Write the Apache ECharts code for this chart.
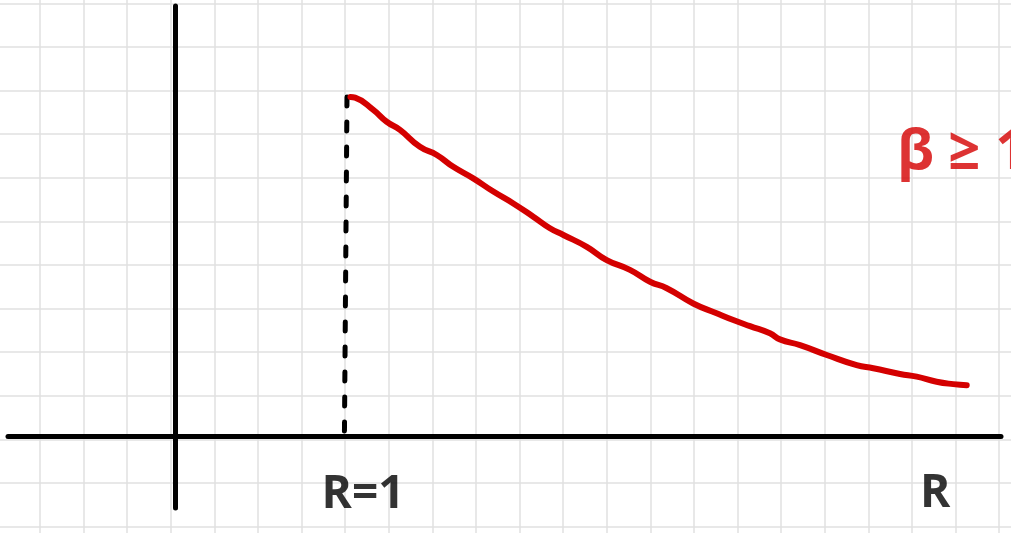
<!DOCTYPE html>
<html>
<head>
<meta charset="utf-8">
<title>β ≥ 1</title>
<script src="https://cdn.jsdelivr.net/npm/echarts@6/dist/echarts.min.js"></script>
<style>
  html, body { margin: 0; padding: 0; background: #ffffff; }
  #chart { width: 1011px; height: 533px; }
</style>
</head>
<body>
<div id="chart"></div>
<script>
// Decreasing curve for R >= 1 (x = R, y = relative value, peak = 1 at R = 1)
const curveR = [1.02, 1.047, 1.153, 1.231, 1.308, 1.424, 1.522, 1.618, 1.734, 1.851,
  1.967, 2.083, 2.180, 2.258, 2.394, 2.510, 2.645, 2.762, 2.859, 3.013,
  3.149, 3.246, 3.343, 3.459, 3.517, 3.634, 3.789, 3.963, 4.060, 4.215,
  4.312, 4.428, 4.525, 4.603];
const curveValue = [1.0, 0.998, 0.962, 0.927, 0.903, 0.853, 0.829, 0.794, 0.760, 0.721,
  0.686, 0.647, 0.613, 0.593, 0.558, 0.519, 0.490, 0.455, 0.436, 0.391,
  0.362, 0.342, 0.324, 0.303, 0.285, 0.268, 0.239, 0.209, 0.200, 0.183,
  0.175, 0.160, 0.153, 0.150];

// Dashed guide from the peak down to the R axis at R = 1
const guideR = [1.0, 0.985];
const guideValue = [1.0, 0.0];

// Annotations (text, R, value)
const noteText = ['R=1', 'R', 'β ≥ 1'];
const noteR = [1.093, 4.42, 4.198];
const noteValue = [-0.174, -0.171, 0.835];

// Axis extents of the sketch
const rRange = [-0.9709, 4.8023];
const valueRange = [-0.21239, 1.26844];

// Graph-paper cells
const paperCols = [-1, 23];
const paperRows = [0, 14];

const chart = echarts.init(document.getElementById('chart'), null, { renderer: 'canvas' });

const curveData = curveR.map((r, i) => [r, curveValue[i]]);
const guideData = guideR.map((r, i) => [r, guideValue[i]]);
const noteColors = ['#000000', '#000000', '#d40000'];
const noteAlign = ['center', 'center', 'left'];
const noteSize = [46, 46, 56];
const noteData = noteText.map((t, i) => ({
  value: [noteR[i], noteValue[i]],
  label: {
    show: true,
    formatter: t,
    color: noteColors[i],
    align: noteAlign[i],
    fontSize: noteSize[i]
  }
}));

const paperLine = { show: true, showMinLine: false, showMaxLine: false, lineStyle: { color: '#e0e0e0', width: 1.5 } };
const hidden = { show: false };

chart.setOption({
  animation: false,
  backgroundColor: '#ffffff',
  grid: [
    // graph paper, one cell per unit, running past the canvas edges
    { left: -3.6, top: -40.3, width: 1046.4, height: 610.4, containLabel: false, outerBoundsMode: 'none' },
    // sketch axes
    { left: 8, right: 10, top: 6, bottom: 25, containLabel: false, outerBoundsMode: 'none' }
  ],
  xAxis: [
    {
      type: 'value', gridIndex: 0, min: paperCols[0], max: paperCols[1], interval: 1,
      axisLine: hidden, axisTick: hidden, axisLabel: hidden, splitLine: paperLine
    },
    {
      type: 'value', gridIndex: 1, min: rRange[0], max: rRange[1],
      axisLine: { show: true, onZero: true, lineStyle: { color: '#000000', width: 5, cap: 'round' } },
      axisTick: hidden, axisLabel: hidden, splitLine: hidden
    }
  ],
  yAxis: [
    {
      type: 'value', gridIndex: 0, min: paperRows[0], max: paperRows[1], interval: 1,
      axisLine: hidden, axisTick: hidden, axisLabel: hidden, splitLine: paperLine
    },
    {
      type: 'value', gridIndex: 1, min: valueRange[0], max: valueRange[1],
      axisLine: { show: true, onZero: true, lineStyle: { color: '#000000', width: 5, cap: 'round' } },
      axisTick: hidden, axisLabel: hidden, splitLine: hidden
    }
  ],
  series: [
    {
      name: 'guide',
      type: 'line',
      xAxisIndex: 1, yAxisIndex: 1,
      data: guideData,
      symbol: 'none',
      lineStyle: { color: '#000000', width: 5, type: [9, 16], cap: 'round' },
      z: 3
    },
    {
      name: 'curve',
      type: 'line',
      xAxisIndex: 1, yAxisIndex: 1,
      data: curveData,
      symbol: 'none',
      smooth: 0.5,
      lineStyle: { color: '#d40000', width: 6, cap: 'round', join: 'round' },
      z: 4
    },
    {
      name: 'notes',
      type: 'scatter',
      xAxisIndex: 1, yAxisIndex: 1,
      data: noteData,
      symbolSize: 0,
      silent: true,
      label: {
        show: true,
        position: 'inside',
        verticalAlign: 'middle',
        fontFamily: 'Open Sans, DejaVu Sans, sans-serif',
        fontWeight: 'bold',
        textBorderWidth: 0
      },
      z: 5
    }
  ]
});
</script>
</body>
</html>
